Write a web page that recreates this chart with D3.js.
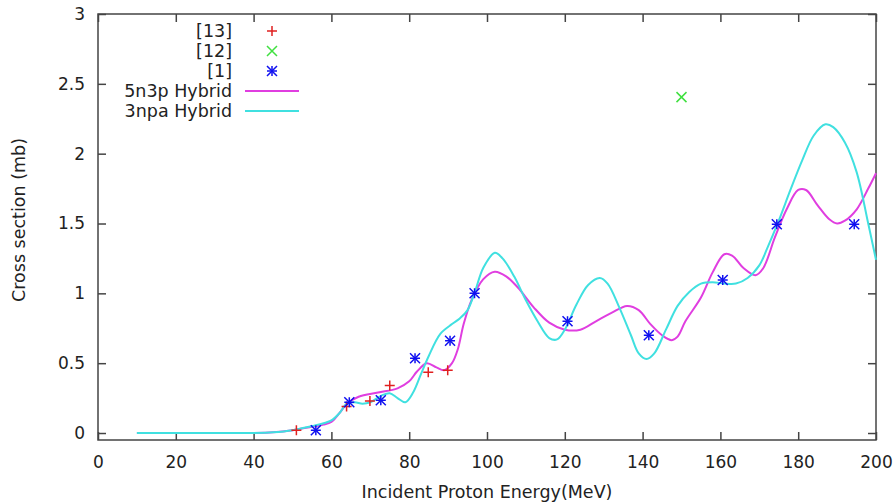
<!DOCTYPE html>
<html><head><meta charset="utf-8">
<script src="https://cdn.jsdelivr.net/npm/d3@7"></script>
<style>body{margin:0;background:#fff}svg{display:block}text{font-family:"DejaVu Sans",sans-serif;fill:#222}</style>
</head><body><svg id="c" width="896" height="504"></svg>
<script>
const xTicks=[0,20,40,60,80,100,120,140,160,180,200];
const yTicks=[0,0.5,1,1.5,2,2.5,3];
const ref13=[[51,0.02],[63.9,0.19],[69.9,0.23],[75,0.34],[84.9,0.435],[89.9,0.45]];
const ref12=[[150,2.405]];
const ref1=[[56,0.02],[64.6,0.22],[72.7,0.235],[81.5,0.535],[90.5,0.66],[96.8,1.0],[120.7,0.80],[141.6,0.70],[160.6,1.095],[174.5,1.495],[194.4,1.495]];
const hyb5n3p=[[10,0],[20,0],[30,0],[40,0],[45,0.005],[50,0.02],[55,0.045],[58,0.06],[60,0.08],[62,0.14],[64,0.21],[67,0.26],[72,0.29],[77,0.32],[80,0.37],[82,0.44],[84.5,0.50],[87,0.47],[89,0.45],[91,0.50],[92.5,0.60],[94,0.78],[96,0.95],[99,1.10],[102,1.155],[105,1.12],[108,1.04],[112,0.90],[116,0.79],[120,0.74],[124,0.74],[128,0.80],[132,0.86],[136,0.91],[139,0.88],[142,0.78],[145,0.70],[147.5,0.665],[149,0.69],[151,0.80],[155,0.97],[158,1.15],[161,1.28],[163,1.27],[166,1.18],[169,1.13],[171,1.18],[174,1.40],[177,1.60],[180,1.74],[182,1.74],[185,1.63],[188,1.53],[190,1.50],[192,1.52],[195,1.60],[198,1.75],[200,1.86]];
const hyb3npa=[[10,0],[20,0],[30,0],[40,0],[45,0.005],[50,0.02],[55,0.05],[58,0.07],[60,0.09],[62,0.14],[64,0.21],[66,0.22],[68,0.21],[70,0.22],[73,0.27],[75,0.285],[77,0.25],[79,0.22],[81,0.29],[83,0.42],[85,0.55],[88,0.71],[91,0.78],[93,0.82],[95,0.88],[97,1.02],[99,1.18],[102,1.29],[104,1.25],[107,1.12],[110,0.95],[113,0.80],[116,0.68],[118,0.67],[120,0.74],[123,0.92],[126,1.06],[129,1.11],[131,1.07],[134,0.90],[137,0.70],[139,0.57],[141,0.53],[143,0.57],[146,0.74],[149,0.91],[152,1.01],[155,1.07],[158,1.08],[161,1.07],[164,1.07],[167,1.11],[170,1.20],[172,1.32],[175,1.52],[178,1.74],[181,1.95],[184,2.13],[187,2.21],[189,2.19],[192,2.08],[195,1.87],[198,1.50],[200,1.24]];

const svg=d3.select("#c");
const L=98,R=876,T=14,B=440;
const x=d3.scaleLinear().domain([0,200]).range([L,R]);
const y=d3.scaleLinear().domain([-0.05,3]).range([B,T]);
const tl=8, frame="#444";

const g=svg.append("g");
g.append("g").attr("transform",`translate(0,${B})`).call(d3.axisBottom(x).tickValues(xTicks).tickSizeInner(-tl).tickSizeOuter(0).tickPadding(16).tickFormat(d3.format("d")));
g.append("g").attr("transform",`translate(0,${T})`).call(d3.axisTop(x).tickValues(xTicks).tickSizeInner(-tl).tickSizeOuter(0).tickFormat(""));
g.append("g").attr("transform",`translate(${L},0)`).call(d3.axisLeft(y).tickValues(yTicks).tickSizeInner(-tl).tickSizeOuter(0).tickPadding(13).tickFormat(d=>String(d)));
g.append("g").attr("transform",`translate(${R},0)`).call(d3.axisRight(y).tickValues(yTicks).tickSizeInner(-tl).tickSizeOuter(0).tickFormat(""));
g.selectAll(".domain").remove();
g.selectAll(".tick line").attr("stroke",frame).attr("stroke-width",1.5);
g.selectAll(".tick text").style("font-size","17px").attr("fill","#222").style("font-family","DejaVu Sans");
svg.append("rect").attr("x",L).attr("y",T).attr("width",R-L).attr("height",B-T).attr("fill","none").attr("stroke",frame).attr("stroke-width",1.5);

svg.append("text").attr("x",(L+R)/2).attr("y",498).attr("text-anchor","middle").style("font-size","17.5px").text("Incident Proton Energy(MeV)");
svg.append("text").attr("transform","translate(25,220) rotate(-90)").attr("text-anchor","middle").style("font-size","17.5px").text("Cross section (mb)");

const cMag="#e03ee0", cCyan="#40e0e0", cRed="#e02020", cGreen="#40e040", cBlue="#1010f0";
const s=5;
function plus(sel,c){sel.append("path").attr("d",`M${-s},0H${s}M0,${-s}V${s}`).attr("stroke",c).attr("stroke-width",1.5).attr("fill","none");}
function cross(sel,c){sel.append("path").attr("d",`M${-s},${-s}L${s},${s}M${-s},${s}L${s},${-s}`).attr("stroke",c).attr("stroke-width",1.5).attr("fill","none");}
function star(sel,c){plus(sel,c);cross(sel,c);}
function pts(data,fn,c){svg.append("g").selectAll("g").data(data).join("g").attr("transform",d=>`translate(${x(d[0])},${y(d[1])})`).each(function(){fn(d3.select(this),c);});}

const line=d3.line().x(d=>x(d[0])).y(d=>y(d[1])).curve(d3.curveCatmullRom.alpha(0.5));
svg.append("path").datum(hyb5n3p).attr("d",line).attr("fill","none").attr("stroke",cMag).attr("stroke-width",2);
svg.append("path").datum(hyb3npa).attr("d",line).attr("fill","none").attr("stroke",cCyan).attr("stroke-width",2);

pts(ref13,plus,cRed);
pts(ref12,cross,cGreen);
pts(ref1,star,cBlue);

const leg=[["[13]","p",cRed,plus],["[12]","p",cGreen,cross],["[1]","p",cBlue,star],["5n3p Hybrid","l",cMag],["3npa Hybrid","l",cCyan]];
leg.forEach((d,i)=>{
  const yy=31+i*20;
  svg.append("text").attr("x",232).attr("y",yy).attr("dy","0.35em").attr("text-anchor","end").style("font-size","17.5px").text(d[0]);
  if(d[1]==="p"){const gg=svg.append("g").attr("transform",`translate(272,${yy})`);d[3](gg,d[2]);}
  else svg.append("line").attr("x1",245).attr("x2",299).attr("y1",yy).attr("y2",yy).attr("stroke",d[2]).attr("stroke-width",2);
});
</script></body></html>
